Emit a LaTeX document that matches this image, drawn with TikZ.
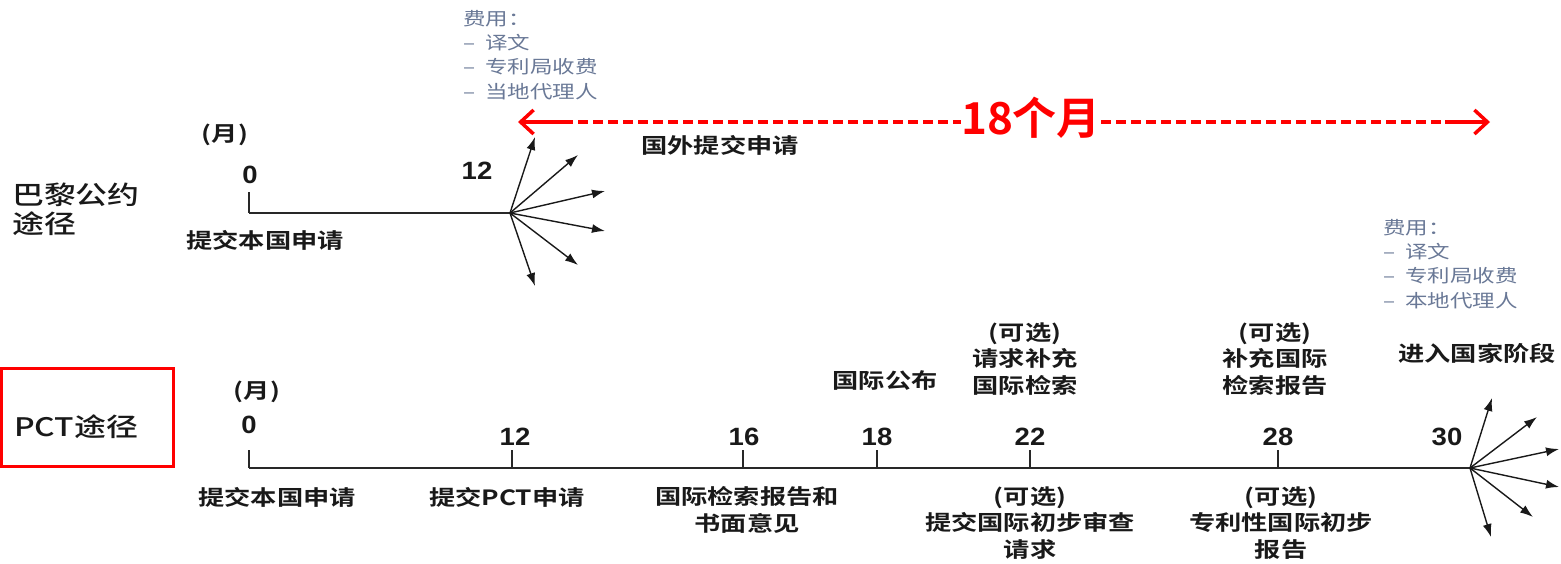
\documentclass[tikz,border=0pt]{standalone}
\usepackage{fontspec}
\usetikzlibrary{arrows.meta}
\newfontfamily\cjk[FakeStretch=1.25,BoldFont={Noto Sans CJK SC Bold}]{Noto Sans CJK SC}
\newfontfamily\cjkm[FakeStretch=1.25]{Noto Sans CJK SC Medium}
\newfontfamily\cjkn[BoldFont={Noto Sans CJK SC Bold}]{Noto Sans CJK SC}
\newfontfamily\numf[FakeStretch=1.1]{Liberation Sans}
\definecolor{txt}{RGB}{25,25,25}
\definecolor{feec}{RGB}{105,120,150}
\definecolor{axis}{RGB}{40,40,40}
\definecolor{redc}{RGB}{255,0,0}
\begin{document}
\begin{tikzpicture}[x=1pt,y=-1pt,
  lbl/.style={font=\cjk\bfseries\fontsize{21}{26.5}\selectfont, text=txt, align=center, inner sep=0pt},
  numl/.style={font=\numf\bfseries\fontsize{25}{25}\selectfont, text=txt, inner sep=0pt},
  route/.style={font=\cjkm\fontsize{25.5}{29}\selectfont, text=txt, align=left, inner sep=0pt},
  fee/.style={font=\cjk\fontsize{18}{24.3}\selectfont, text=feec, align=left, inner sep=0pt, anchor=west},
  axisln/.style={draw=axis, line width=1.6pt},
  tickln/.style={draw=axis, line width=1.4pt},
  fanarr/.style={draw=txt, line width=1.4pt, -{Latex[length=13pt,width=9pt]}},
  redln/.style={draw=redc, line width=3.5pt},
  redtip/.style={{Straight Barb[length=13pt,width=24pt]}-},
]
\useasboundingbox (0,0) rectangle (1561,563);

% ---------------- Paris route ----------------
\node[route, anchor=west] (paris) at (12,209) {巴黎公约\\途径};
\node[lbl] (pm) at (225,135) {(月)};
\node[numl] (p0) at (250,175) {0};
\node[numl] (p12) at (477,171) {12};
\node[lbl] (pfile) at (265,240) {提交本国申请};
\node[lbl] (pabroad) at (720,145) {国外提交申请};
\node[fee] (fee1) at (463,55) {费用：\\– \hspace{5pt}译文\\– \hspace{5pt}专利局收费\\– \hspace{5pt}当地代理人};

\coordinate (pt0) at (249,192);
\coordinate (pa0) at (249,213);
\coordinate (pfan) at (510,213);
\draw[tickln] (pt0) -- (pa0);
\draw[axisln] (pa0) -- (pfan);
\coordinate (pf1) at (535,137);
\coordinate (pf2) at (578,155);
\coordinate (pf3) at (605,191);
\coordinate (pf4) at (605,231);
\coordinate (pf5) at (578,265);
\coordinate (pf6) at (535,286);
\foreach \t in {pf1,pf2,pf3,pf4,pf5,pf6} \draw[fanarr] (pfan) -- (\t);

% red 18-month arrow
\node[font=\cjkn\bfseries\fontsize{44}{44}\selectfont, text=redc, inner sep=0pt] (m18) at (1031,118) {18个月};
\coordinate (ltip) at (518,122);
\coordinate (lsol) at (563,122);
\coordinate (rtip) at (1490,122);
\coordinate (rsol) at (1445,122);
\draw[redln, redtip] (ltip) -- (lsol);
\draw[redln, dash pattern=on 10pt off 5pt] (lsol) -- (m18.west |- lsol);
\draw[redln, dash pattern=on 10pt off 5pt] (m18.east |- rsol) -- (rsol);
\draw[redln, redtip] (rtip) -- (rsol);

% ---------------- PCT route ----------------
\draw[draw=redc, line width=3pt] (1.5,368) rectangle (173,466);
\node[route] (pct) at (76,427) {PCT途径};
\node[lbl] (bm) at (257,392) {(月)};

\coordinate (b0) at (249,468);
\coordinate (bfan) at (1470,468);
\draw[axisln, line width=2pt] (b0) -- (bfan);

\foreach \x/\n in {249/0,512/12,743/16,877/18,1030/22,1278/28}{
  \coordinate (bt\n) at (\x,450);
  \coordinate (bb\n) at (\x,468);
  \draw[tickln] (bt\n) -- (bb\n);
}
\node[numl] (n0) at (249,425) {0};
\node[numl] (n12) at (515,437) {12};
\node[numl] (n16) at (744,437) {16};
\node[numl] (n18) at (877,437) {18};
\node[numl] (n22) at (1030,437) {22};
\node[numl] (n28) at (1278,437) {28};
\node[numl] (n30) at (1447,437) {30};

\node[lbl] (l0) at (277,497) {提交本国申请};
\node[lbl] (l12) at (507,497) {提交PCT申请};
\node[lbl] (l16) at (747,510) {国际检索报告和\\书面意见};
\node[lbl] (l22) at (1030,523) {(可选)\\提交国际初步审查\\请求};
\node[lbl] (l28) at (1281,523) {(可选)\\专利性国际初步\\报告};

\node[lbl] (u18) at (885,380) {国际公布};
\node[lbl] (u22) at (1025,359) {(可选)\\请求补充\\国际检索};
\node[lbl] (u28) at (1275,359) {(可选)\\补充国际\\检索报告};
\node[lbl] (u30) at (1477,353) {进入国家阶段};
\node[fee] (fee2) at (1383,264) {费用：\\– \hspace{5pt}译文\\– \hspace{5pt}专利局收费\\– \hspace{5pt}本地代理人};

\coordinate (bf1) at (1492,398);
\coordinate (bf2) at (1537,417);
\coordinate (bf3) at (1559,449);
\coordinate (bf4) at (1559,487);
\coordinate (bf5) at (1533,517);
\coordinate (bf6) at (1491,537);
\foreach \t in {bf1,bf2,bf3,bf4,bf5,bf6} \draw[fanarr] (bfan) -- (\t);
\end{tikzpicture}
\end{document}
